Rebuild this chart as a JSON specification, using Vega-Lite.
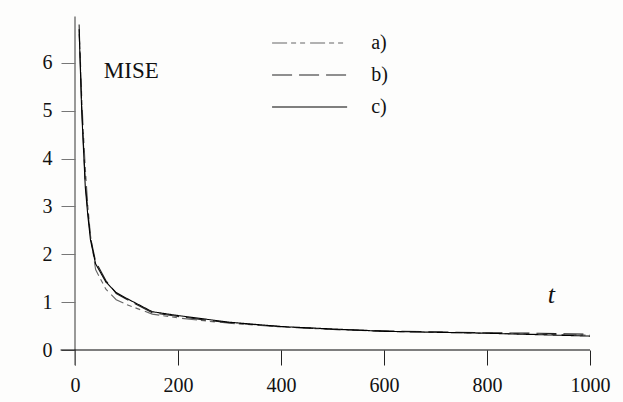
{
  "$schema": "https://vega.github.io/schema/vega-lite/v6.json",
  "width": 515,
  "height": 335,
  "autosize": "none",
  "padding": {"left": 75, "top": 15, "right": 33, "bottom": 52},
  "background": "#fdfdfc",
  "config": {"view": {"stroke": null}, "font": "Liberation Serif"},
  "datasets": {
    "curves": [
      {"t": 8, "v": 6.6, "s": "a)"}, {"t": 10, "v": 6.2, "s": "a)"}, {"t": 13, "v": 5.3, "s": "a)"}, {"t": 16, "v": 4.6, "s": "a)"}, {"t": 20, "v": 3.8, "s": "a)"}, {"t": 25, "v": 3.0, "s": "a)"}, {"t": 30, "v": 2.4, "s": "a)"}, {"t": 40, "v": 1.68, "s": "a)"}, {"t": 60, "v": 1.27, "s": "a)"}, {"t": 80, "v": 1.05, "s": "a)"}, {"t": 100, "v": 0.95, "s": "a)"}, {"t": 150, "v": 0.75, "s": "a)"}, {"t": 200, "v": 0.67, "s": "a)"}, {"t": 250, "v": 0.61, "s": "a)"}, {"t": 300, "v": 0.56, "s": "a)"}, {"t": 400, "v": 0.48, "s": "a)"}, {"t": 500, "v": 0.43, "s": "a)"}, {"t": 600, "v": 0.39, "s": "a)"}, {"t": 700, "v": 0.37, "s": "a)"}, {"t": 800, "v": 0.35, "s": "a)"}, {"t": 900, "v": 0.33, "s": "a)"}, {"t": 1000, "v": 0.31, "s": "a)"},
      {"t": 8, "v": 6.8, "s": "b)"}, {"t": 10, "v": 6.1, "s": "b)"}, {"t": 13, "v": 5.1, "s": "b)"}, {"t": 16, "v": 4.4, "s": "b)"}, {"t": 20, "v": 3.5, "s": "b)"}, {"t": 25, "v": 2.9, "s": "b)"}, {"t": 30, "v": 2.35, "s": "b)"}, {"t": 40, "v": 1.85, "s": "b)"}, {"t": 60, "v": 1.45, "s": "b)"}, {"t": 80, "v": 1.18, "s": "b)"}, {"t": 100, "v": 1.06, "s": "b)"}, {"t": 150, "v": 0.78, "s": "b)"}, {"t": 200, "v": 0.70, "s": "b)"}, {"t": 250, "v": 0.63, "s": "b)"}, {"t": 300, "v": 0.57, "s": "b)"}, {"t": 400, "v": 0.49, "s": "b)"}, {"t": 500, "v": 0.43, "s": "b)"}, {"t": 600, "v": 0.40, "s": "b)"}, {"t": 700, "v": 0.38, "s": "b)"}, {"t": 800, "v": 0.36, "s": "b)"}, {"t": 900, "v": 0.35, "s": "b)"}, {"t": 1000, "v": 0.33, "s": "b)"},
      {"t": 8, "v": 6.7, "s": "c)"}, {"t": 10, "v": 6.0, "s": "c)"}, {"t": 13, "v": 5.0, "s": "c)"}, {"t": 16, "v": 4.3, "s": "c)"}, {"t": 20, "v": 3.4, "s": "c)"}, {"t": 25, "v": 2.8, "s": "c)"}, {"t": 30, "v": 2.3, "s": "c)"}, {"t": 40, "v": 1.8, "s": "c)"}, {"t": 60, "v": 1.42, "s": "c)"}, {"t": 80, "v": 1.2, "s": "c)"}, {"t": 100, "v": 1.08, "s": "c)"}, {"t": 150, "v": 0.8, "s": "c)"}, {"t": 200, "v": 0.72, "s": "c)"}, {"t": 250, "v": 0.65, "s": "c)"}, {"t": 300, "v": 0.58, "s": "c)"}, {"t": 400, "v": 0.49, "s": "c)"}, {"t": 500, "v": 0.44, "s": "c)"}, {"t": 600, "v": 0.39, "s": "c)"}, {"t": 700, "v": 0.37, "s": "c)"}, {"t": 800, "v": 0.35, "s": "c)"}, {"t": 900, "v": 0.32, "s": "c)"}, {"t": 1000, "v": 0.29, "s": "c)"}
    ]
  },
  "layer": [
    {
      "data": {"name": "curves"},
      "mark": {"type": "line", "strokeWidth": 1.1},
      "encoding": {
        "x": {
          "field": "t", "type": "quantitative",
          "scale": {"domain": [0, 1000], "nice": false, "zero": false},
          "axis": {"values": [0, 200, 400, 600, 800, 1000], "format": "d", "domain": false, "grid": false, "tickSize": 15, "tickColor": "#222", "labelFontSize": 20, "labelFont": "Liberation Serif", "labelColor": "#111", "labelPadding": 10, "title": null, "labelFlush": false}
        },
        "y": {
          "field": "v", "type": "quantitative",
          "scale": {"domain": [0, 7], "nice": false},
          "axis": {"values": [0, 1, 2, 3, 4, 5, 6], "domain": false, "grid": false, "tickSize": 14, "tickColor": "#777", "labelFontSize": 20, "labelFont": "Liberation Serif", "labelColor": "#111", "labelPadding": 9, "title": null}
        },
        "color": {
          "field": "s", "type": "nominal",
          "scale": {"domain": ["a)", "b)", "c)"], "range": ["#666666", "#222222", "#000000"]},
          "legend": {"title": null, "orient": "none", "legendX": 224.6, "legendY": 18, "symbolType": "M-4,0H4", "symbolSize": 352, "symbolStrokeWidth": 1.2, "labelFont": "Liberation Serif", "labelFontSize": 20, "labelColor": "#111", "labelOffset": 51.6, "rowPadding": 12, "padding": 0}
        },
        "strokeDash": {
          "field": "s", "type": "nominal",
          "scale": {"domain": ["a)", "b)", "c)"], "range": [[15, 4, 5, 4, 5, 5], [20, 7], [1, 0]]},
          "legend": {"title": null, "orient": "none", "legendX": 224.6, "legendY": 18, "symbolType": "M-4,0H4", "symbolSize": 352, "symbolStrokeWidth": 1.2, "labelFont": "Liberation Serif", "labelFontSize": 20, "labelColor": "#111", "labelOffset": 51.6, "rowPadding": 12, "padding": 0}
        }
      }
    },
    {
      "data": {"values": [{}]},
      "mark": {"type": "rule", "color": "#777777", "strokeWidth": 1.5},
      "encoding": {"x": {"datum": 0, "type": "quantitative"}, "y": {"datum": -0.32, "type": "quantitative"}, "y2": {"datum": 6.97}}
    },
    {
      "data": {"values": [{}]},
      "mark": {"type": "rule", "color": "#000000", "strokeWidth": 1.2},
      "encoding": {"x": {"datum": -28, "type": "quantitative"}, "x2": {"datum": 1000}, "y": {"datum": 0, "type": "quantitative"}}
    },
    {
      "data": {"values": [{}]},
      "mark": {"type": "text", "text": "MISE", "align": "left", "baseline": "middle", "fontSize": 23, "font": "Liberation Serif", "color": "#111"},
      "encoding": {"x": {"datum": 56, "type": "quantitative"}, "y": {"datum": 5.83, "type": "quantitative"}}
    },
    {
      "data": {"values": [{}]},
      "mark": {"type": "text", "text": "t", "align": "center", "baseline": "middle", "fontSize": 26, "fontStyle": "italic", "font": "Liberation Serif", "color": "#111"},
      "encoding": {"x": {"datum": 925, "type": "quantitative"}, "y": {"datum": 1.14, "type": "quantitative"}}
    }
  ]
}
